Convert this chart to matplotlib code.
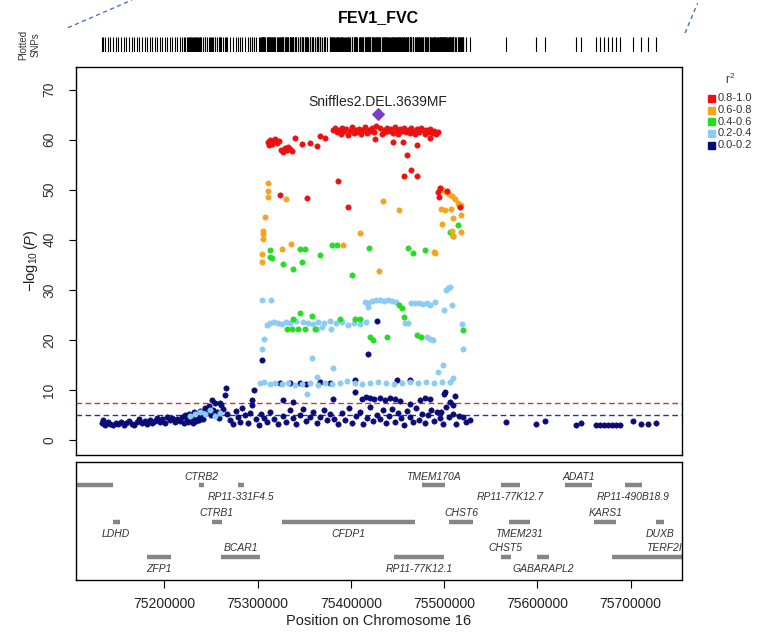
# Regional association plot (locuszoom style) for FEV1_FVC on chromosome 16
import matplotlib
matplotlib.use("Agg")
import matplotlib.pyplot as plt
from matplotlib.lines import Line2D
from matplotlib.patches import Rectangle
from matplotlib.ticker import FixedLocator, FuncFormatter

plt.rcParams['font.family'] = ['Liberation Sans', 'DejaVu Sans']
plt.rcParams['mathtext.fontset'] = 'custom'
plt.rcParams['mathtext.rm'] = 'Liberation Sans'
plt.rcParams['mathtext.it'] = 'Liberation Sans:italic'

########################################################################
# Values: positions in kb, -log10(P)

title = "FEV1_FVC"
lead_name = "Sniffles2.DEL.3639MF"
lead_pos = 75429.2
lead_logp = 65.1

red_pos = [75311, 75313, 75315, 75317, 75319, 75321, 75323, 75312,
	75325, 75327, 75329, 75331, 75333, 75335, 75337,
	75340.0, 75347.2, 75356.1, 75363.3, 75366.8, 75372.1,
	75381, 75383, 75385, 75387, 75389, 75391, 75393, 75395, 75397, 75399,
	75401, 75403, 75405, 75407, 75409, 75411, 75413, 75415, 75417, 75419,
	75421, 75423, 75425, 75427, 75431, 75433, 75435, 75437, 75439,
	75441, 75443, 75445, 75447, 75449, 75451, 75453, 75455, 75457, 75459,
	75461, 75463, 75465, 75467, 75469, 75471, 75473, 75475, 75477, 75479,
	75481, 75483, 75485, 75487, 75489, 75491, 75493,
	75425.7, 75445.0, 75455.7, 75470.4, 75484.6, 75459.7, 75464.0, 75456.8,
	75471.0, 75385.7, 75323.9, 75352.5, 75397.1, 75493.5, 75494.5, 75516.7,
	75495.3, 75503.0]
red_logp = [59.5, 60.0, 59.2, 59.8, 60.1, 59.4, 59.7, 58.9,
	58.0, 57.6, 58.4, 57.9, 58.6, 58.1, 57.7,
	60.3, 59.2, 59.4, 58.7, 60.7, 60.4,
	61.9, 62.3, 61.5, 62.0, 61.2, 62.4, 61.7, 62.1, 61.0, 61.8,
	62.5, 61.4, 62.0, 61.6, 62.2, 61.1, 61.9, 62.6, 61.3, 62.0,
	61.7, 62.3, 61.5, 62.8, 62.4, 61.2, 62.0, 61.6, 62.3,
	61.8, 62.1, 61.4, 62.5, 61.9, 61.2, 62.2, 61.7, 62.4, 61.5,
	62.0, 61.3, 62.3, 61.8, 61.1, 62.1, 61.6, 62.4, 61.9, 61.2,
	62.0, 61.6, 62.2, 61.4, 61.8, 61.1, 61.5,
	60.2, 59.5, 59.5, 58.9, 60.3, 56.9, 53.9, 52.7,
	52.7, 51.7, 48.9, 48.3, 46.5, 49.5, 48.5, 46.5,
	50.4, 49.8]

orange_pos = [75311.4, 75311.4, 75311.4, 75330.4, 75307.9, 75306.1, 75306.1, 75306.1,
	75304.3, 75304.3, 75325.8, 75335.4, 75391.1, 75409.6, 75434.6, 75451.7,
	75489.2, 75490.5, 75430.3,
	75495.3, 75498.5, 75501.8, 75505.0, 75508.2, 75511.4, 75514.6, 75517.8,
	75496.3, 75500.6, 75507.0, 75517.8, 75497.4, 75509.2, 75508.2, 75509.2,
	75517.8, 75515.7]
orange_logp = [51.3, 49.7, 48.5, 48.2, 44.5, 41.7, 41.2, 40.2,
	37.2, 35.5, 38.2, 39.2, 38.9, 41.4, 47.7, 46.0,
	37.5, 37.3, 33.7,
	50.3, 49.9, 49.5, 49.1, 48.7, 48.1, 47.3, 46.9,
	46.1, 45.9, 46.1, 44.9, 43.1, 44.3, 41.7, 40.7,
	41.5, 46.9]

green_pos = [75515.0, 75509.6, 75506.8, 75313.2, 75313.2, 75345.4, 75350.7, 75379.3,
	75384.7, 75366.8, 75419.6, 75461.1, 75466.4, 75479.3, 75315.0, 75327.5,
	75338.2, 75347.2, 75401.4,
	75345.4, 75357.9, 75337.5, 75331.1, 75336.8, 75343.2, 75350.7, 75361.4,
	75388.2, 75404.3, 75409.6, 75451.7, 75454.3, 75456.8, 75420.3, 75423.9,
	75438.9, 75470.4, 75475.7, 75520.3]
green_logp = [42.9, 40.7, 41.5, 37.9, 36.5, 38.2, 38.2, 38.9,
	38.9, 36.9, 38.4, 38.3, 37.3, 37.9, 36.4, 35.1,
	34.2, 35.5, 32.9,
	25.4, 24.7, 24.2, 22.2, 22.2, 22.2, 22.2, 22.2,
	24.1, 24.2, 24.2, 26.9, 26.3, 24.5, 20.5, 19.9,
	20.5, 20.9, 20.5, 21.9]

lightblue_pos = [75304.3, 75314.0, 75415.0, 75418.2, 75422.5, 75426.8, 75431.0, 75435.3,
	75439.6, 75443.9, 75448.2, 75465.0, 75468.6, 75472.8, 75477.1, 75481.4,
	75484.6, 75490.7, 75499.6, 75502.5, 75504.6, 75506.8, 75508.5, 75418.6,
	75309.7, 75313.2, 75317.5, 75321.8, 75326.1, 75330.4, 75334.6, 75341.1,
	75348.6, 75354.0, 75359.3, 75364.6, 75371.1, 75377.5, 75383.9, 75390.4,
	75396.8, 75403.2, 75409.6, 75416.1, 75363.6, 75369.0, 75378.6, 75457.9,
	75461.1, 75481.1, 75484.6, 75488.2, 75518.9, 75306.8, 75304.3, 75357.9,
	75381.0, 75519.9, 75498.9, 75493.5,
	75302.5, 75306.8, 75313.2, 75318.6, 75326.1, 75332.5, 75340.0, 75347.5,
	75356.1, 75364.6, 75372.1, 75379.6, 75388.2, 75395.7, 75404.3, 75411.8,
	75420.3, 75428.9, 75437.4, 75446.0, 75454.6, 75463.2, 75471.7, 75480.3,
	75488.9, 75497.4, 75506.0, 75509.3, 75363.2, 75353.0,
	75238.5, 75243.9, 75249.0, 75254.3, 75259.7, 75227.5, 75232.9]
lightblue_logp = [28.0, 28.0, 27.5, 27.3, 27.7, 27.9, 27.9, 27.7,
	27.9, 27.7, 27.5, 27.3, 27.3, 27.3, 27.1, 27.3,
	26.9, 27.5, 25.9, 29.9, 30.3, 30.5, 26.9, 26.5,
	22.9, 23.3, 23.5, 23.3, 23.1, 23.5, 23.3, 23.7,
	23.5, 23.3, 23.1, 23.5, 23.3, 23.7, 23.3, 23.5,
	22.9, 23.3, 23.1, 23.5, 22.1, 22.5, 22.1, 23.3,
	23.3, 20.5, 20.1, 19.9, 23.1, 20.2, 18.2, 16.3,
	14.4, 18.1, 14.9, 13.5,
	11.3, 11.5, 11.1, 11.3, 11.1, 11.3, 10.9, 11.1,
	11.3, 10.9, 11.3, 11.1, 11.3, 11.7, 11.3, 11.1,
	11.3, 11.5, 11.3, 11.1, 11.3, 11.5, 11.3, 11.5,
	11.3, 11.5, 11.5, 12.3, 12.5, 9.1,
	5.5, 5.1, 5.9, 4.7, 5.3, 4.7, 5.1]

navy_pos = [75132.9, 75134.3, 75136.5, 75139.7, 75141.9, 75145.0, 75148.3, 75150.4,
	75153.6, 75156.8, 75159.0, 75162.2, 75165.4, 75167.5, 75170.8, 75172.9,
	75176.1, 75179.3, 75181.5, 75184.7, 75186.8, 75190.0, 75192.2, 75195.4,
	75197.6, 75200.7, 75202.9, 75206.1, 75208.2, 75211.5, 75213.6, 75216.8,
	75219.0, 75221.1, 75222.1, 75224.3, 75225.4, 75226.4, 75227.5, 75228.6,
	75229.7, 75230.7, 75231.8, 75232.9, 75234.0, 75235.0, 75236.1, 75237.2,
	75238.3, 75239.3, 75241.5, 75243.6, 75245.7, 75247.9, 75250.0, 75252.2,
	75254.3, 75256.5, 75258.6, 75260.7, 75262.9, 75265.0, 75266.1, 75267.2,
	75270.4, 75273.6, 75276.8, 75279.0, 75281.1, 75283.2, 75286.5, 75289.7,
	75291.8, 75294.0, 75298.2, 75301.4, 75303.6, 75306.8, 75310.0, 75313.2,
	75317.5, 75321.8, 75327.1, 75330.4, 75334.6, 75337.9, 75341.1, 75345.4,
	75348.6, 75351.8, 75356.1, 75359.3, 75363.6, 75366.8, 75371.1, 75374.3,
	75377.5, 75381.8, 75386.1, 75390.4, 75393.6, 75397.9, 75401.1, 75405.4,
	75409.6, 75412.9, 75417.1, 75420.3, 75423.5, 75427.8, 75431.0, 75434.2,
	75437.5, 75440.7, 75443.9, 75447.1, 75450.4, 75453.6, 75456.8, 75460.0,
	75463.2, 75466.4, 75469.6, 75472.8, 75476.1, 75479.3, 75482.5, 75485.7,
	75488.9, 75492.1, 75495.3, 75497.1, 75498.5, 75501.8, 75505.0, 75509.6,
	75513.2, 75515.7, 75520.0, 75523.2, 75527.5,
	75304.3, 75428.2, 75418.6, 75296.1, 75500.7,
	75323.9, 75334.6, 75345.4, 75351.8, 75366.8, 75377.5, 75404.3, 75449.2, 75463.2,
	75411.8, 75416.1, 75420.3, 75424.6, 75431.0, 75436.3, 75441.7, 75447.0,
	75452.5, 75473.9, 75479.3, 75484.6, 75506.0, 75509.3, 75511.4, 75404.3,
	75381.0, 75327.5, 75338.2, 75293.6, 75463.2, 75499.6, 75250.8, 75259.7,
	75566.8, 75598.9, 75607.8, 75641.8, 75647.1, 75663.2, 75666.7, 75671.0,
	75675.2, 75679.5, 75683.8, 75688.1, 75702.4, 75711.4, 75718.5, 75727.5]
navy_logp = [3.3, 4.0, 3.0, 3.5, 3.2, 2.9, 3.4, 3.1,
	3.6, 3.0, 3.3, 3.8, 3.2, 3.0, 3.5, 4.1,
	3.3, 3.7, 3.1, 4.0, 3.4, 3.8, 4.3, 3.6,
	4.1, 3.4, 4.5, 3.9, 4.4, 3.5, 4.2, 3.8,
	4.6, 3.3, 4.9, 4.1, 3.6, 5.2, 4.4, 3.9,
	4.8, 3.4, 5.5, 4.2, 3.7, 5.0, 4.5, 3.9,
	5.8, 4.7, 4.1, 6.3, 5.4, 6.8, 4.9, 6.0,
	7.3, 5.6, 4.4, 7.0, 6.2, 8.9, 10.3, 5.2,
	4.0, 3.2, 5.8, 4.6, 3.5, 6.4, 4.9, 3.3,
	5.3, 6.9, 4.2, 3.0, 5.1, 4.4, 3.6, 5.6,
	4.1, 3.2, 4.8, 3.5, 5.9, 4.3, 3.1, 4.9,
	6.1, 3.7, 4.5, 5.5, 3.3, 4.6, 6.0, 3.9,
	5.1, 4.2, 3.1, 5.4, 4.0, 6.3, 3.4, 4.7,
	5.6, 3.2, 4.4, 6.6, 3.8, 5.0, 4.1, 5.9,
	3.3, 4.8, 6.2, 3.6, 5.3, 4.3, 3.0, 5.7,
	4.6, 3.5, 6.4, 4.0, 5.2, 3.3, 4.9, 6.0,
	3.8, 5.5, 4.3, 5.5, 3.1, 6.5, 4.6, 5.2,
	3.2, 4.8, 4.5, 3.6, 3.9,
	15.9, 23.7, 17.2, 9.9, 9.5,
	11.3, 11.3, 11.3, 11.1, 11.5, 11.3, 11.9, 11.9, 11.9,
	8.1, 8.5, 8.3, 8.1, 8.3, 7.9, 8.3, 8.1,
	7.7, 7.9, 8.3, 8.1, 7.5, 6.9, 8.7, 9.5,
	8.2, 7.9, 7.5, 7.9, 7.2, 9.2, 7.9, 7.3,
	3.5, 3.1, 3.7, 3.0, 3.3, 3.0, 3.0, 3.0,
	3.0, 3.0, 3.0, 3.0, 3.7, 3.1, 3.1, 3.4]

# genes: name, start kb, end kb, row (1 top), label above?
gene_names = ["", "CTRB2", "RP11-331F4.5", "TMEM170A", "RP11-77K12.7", "ADAT1", "RP11-490B18.9",
	"LDHD", "CTRB1", "CFDP1", "CHST6", "TMEM231", "KARS1", "DUXB",
	"ZFP1", "BCAR1", "RP11-77K12.1", "CHST5", "GABARAPL2", "TERF2IP"]
gene_start = [75106.0, 75237.1, 75279.5, 75476.0, 75561.1, 75630.1, 75693.4,
	75144.5, 75251.1, 75326.6, 75505.7, 75569.0, 75660.7, 75727.1,
	75181.2, 75261.1, 75445.9, 75561.1, 75599.6, 75680.3]
gene_end = [75145.4, 75242.4, 75285.0, 75501.3, 75581.2, 75658.5, 75712.2,
	75152.0, 75261.6, 75468.6, 75530.6, 75591.7, 75684.7, 75735.8,
	75207.4, 75302.6, 75500.0, 75571.2, 75612.7, 75799.0]
gene_row = [1, 1, 1, 1, 1, 1, 1, 2, 2, 2, 2, 2, 2, 2, 3, 3, 3, 3, 3, 3]
gene_above = [True, True, False, True, False, True, False,
	False, True, False, True, False, True, False,
	False, True, False, True, False, True]

r2_labels = ["0.8-1.0", "0.6-0.8", "0.4-0.6", "0.2-0.4", "0.0-0.2"]
r2_colors = ["#EE1010", "#F7A41C", "#22DD22", "#8CCBF2", "#0A0A78"]

sig_line = 7.3
sugg_line = 5.0
x_ticks = [75200000, 75300000, 75400000, 75500000, 75600000, 75700000]
y_ticks = [0, 10, 20, 30, 40, 50, 60, 70]

########################################################################

W, H = 762, 632

def figBox(left, top, right, bottom):
	# pixel box -> figure fraction [left, bottom, width, height]
	return [left / W, 1 - bottom / H, (right - left) / W, (bottom - top) / H]

def plotLocus():
	fig = plt.figure(figsize=(W / 100, H / 100), dpi=100)
	x_min, x_max = 75105000, 75755000

	ax = fig.add_axes(figBox(75.7, 67, 682, 455))
	ax_rug = fig.add_axes(figBox(75.7, 37, 682, 52))
	ax_gene = fig.add_axes(figBox(75.7, 462, 682, 580))

	# scatter, lowest r2 first so the strong ones sit on top
	groups = [(navy_pos, navy_logp), (lightblue_pos, lightblue_logp), (green_pos, green_logp),
		(orange_pos, orange_logp), (red_pos, red_logp)]
	colors = r2_colors[::-1]
	for (pos, logp), c in zip(groups, colors):
		ax.scatter([p * 1000 for p in pos], logp, s=15, c=c, edgecolors=c, linewidths=0.4, zorder=3)

	ax.scatter([lead_pos * 1000], [lead_logp], marker="D", s=34, c="#7B3FC7", zorder=4)
	ax.annotate(lead_name, (lead_pos * 1000, lead_logp), xytext=(0, 9), textcoords="offset points",
		ha="center", va="center", fontsize=10, color="#222222")

	ax.axhline(sig_line, color="#D9302A", lw=1.0, ls=(0, (4, 2.5)), zorder=2)
	ax.axhline(sugg_line, color="#2630A8", lw=1.0, ls=(0, (4, 2.5)), zorder=2)

	ax.set_xlim(x_min, x_max)
	ax.set_ylim(-3.0, 74.5)
	ax.set_xticks([])
	ax.yaxis.set_major_locator(FixedLocator(y_ticks))
	ax.tick_params(axis="y", length=5, width=0.8, pad=9, labelsize=10, labelcolor="#333333")
	for lbl in ax.get_yticklabels():
		lbl.set_rotation(90)
		lbl.set_va("center")
	ax.set_ylabel(r"$-\log_{10}(P)$", fontsize=10.5, color="#222222")
	ax.yaxis.set_label_coords((40 - 75.7) / 606.3, 0.5)
	for sp in ax.spines.values():
		sp.set_linewidth(1.0)

	# rug of plotted snps
	all_pos = navy_pos + lightblue_pos + green_pos + orange_pos + red_pos + [lead_pos]
	ax_rug.vlines([p * 1000 for p in all_pos], 0, 1, color="black", lw=0.8)
	ax_rug.set_xlim(x_min, x_max)
	ax_rug.set_ylim(0, 1)
	ax_rug.axis("off")

	# gene track
	row_y = {1: 95, 2: 58.3, 3: 23.3}
	for name, s, e, r, up in zip(gene_names, gene_start, gene_end, gene_row, gene_above):
		y = row_y[r]
		ax_gene.plot([s * 1000, e * 1000], [y, y], color="#858585", lw=3.2, solid_capstyle="butt")
		if name:
			ty = y + 8.5 if up else y - 12
			ax_gene.text((s + e) / 2 * 1000, ty, name, ha="center", va="center", fontsize=7.5,
				style="italic", color="#333333", clip_on=True)
	ax_gene.set_xlim(x_min, x_max)
	ax_gene.set_ylim(0, 118)
	ax_gene.set_yticks([])
	ax_gene.xaxis.set_major_locator(FixedLocator(x_ticks))
	ax_gene.xaxis.set_major_formatter(FuncFormatter(lambda v, p: "%d" % v))
	ax_gene.tick_params(axis="x", length=6, width=0.8, pad=6, labelsize=10, labelcolor="#222222")
	ax_gene.set_xlabel("Position on Chromosome 16", fontsize=10.5, color="#222222")
	ax_gene.xaxis.set_label_coords(0.5, (580 - 614) / 118)
	for sp in ax_gene.spines.values():
		sp.set_linewidth(1.0)

	# titles and side texts
	fig.text(378.9 / W, 1 - 18 / H, title, ha="center", va="center", fontsize=11.5, fontweight="bold")
	fig.text(29 / W, 1 - 45 / H, "Plotted\nSNPs", ha="center", va="center", rotation=90,
		fontsize=7, linespacing=1.3, color="#333333")

	# r2 legend
	fig.text(730 / W, 1 - 79 / H, r"r$^2$", ha="center", va="center", fontsize=8.5, color="#333333")
	row_px = [98.3, 110, 121.7, 133.3, 145]
	for lab, c, py in zip(r2_labels, r2_colors, row_px):
		fig.add_artist(Rectangle((708 / W, 1 - (py + 3.5) / H), 7 / W, 7 / H, color=c,
			transform=fig.transFigure))
		fig.text(718 / W, 1 - py / H, lab, ha="left", va="center", fontsize=8, color="#333333")

	# dashed connector lines from the parent figure
	fig.add_artist(Line2D([68 / W, 132 / W], [1 - 27.7 / H, 1.0], transform=fig.transFigure,
		color="#4A72D0", lw=1.0, ls=(0, (3, 2.5))))
	fig.add_artist(Line2D([685 / W, 697.6 / W], [1 - 33 / H, 1 - 3.3 / H], transform=fig.transFigure,
		color="#4A72D0", lw=1.0, ls=(0, (3, 2.5))))

	fig.savefig("out.png", dpi=100)

########################################################################
if __name__ == "__main__":
	plotLocus()
